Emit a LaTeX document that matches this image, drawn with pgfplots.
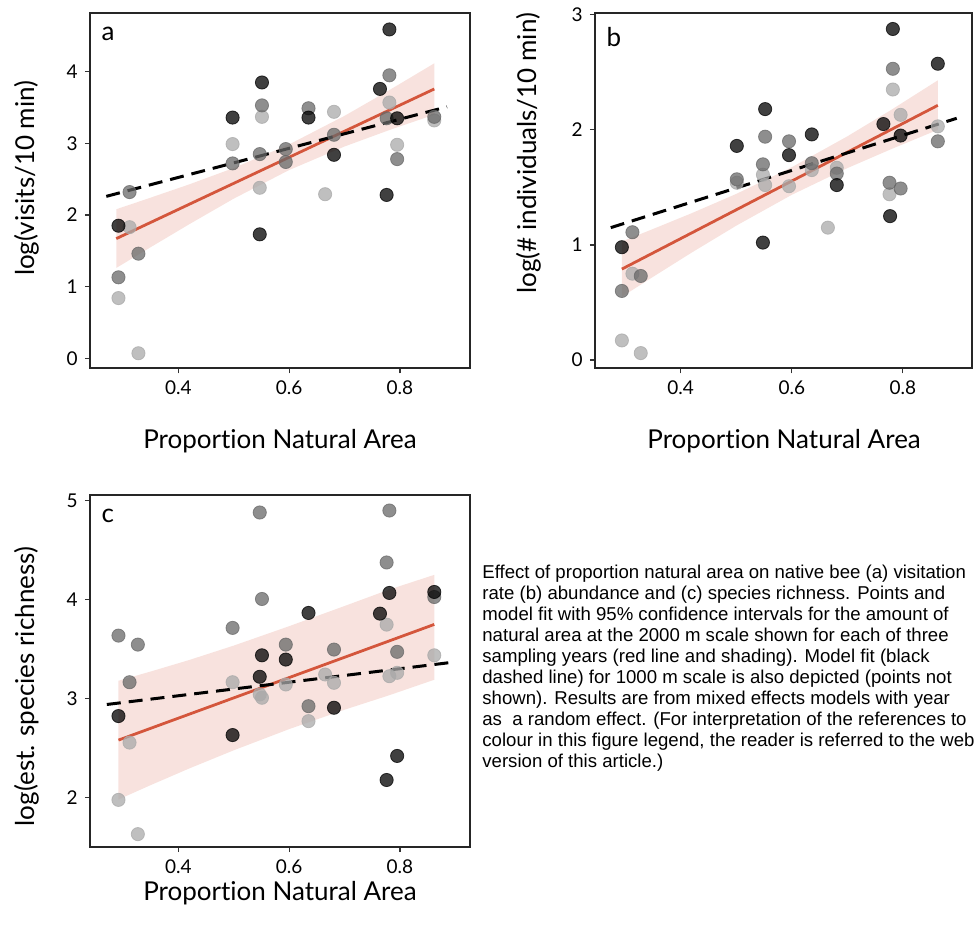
\documentclass[border=0pt]{standalone}
\usepackage{fontspec}
\setmainfont{Liberation Sans}
\newfontfamily\gill[Ligatures=NoCommon]{Lato}
\usepackage{pgfplots}
\pgfplotsset{compat=1.18}

\definecolor{fitred}{RGB}{212,86,60}
\definecolor{ptdark}{RGB}{0,0,0}
\definecolor{ptmid}{RGB}{104,104,104}
\definecolor{ptlight}{RGB}{169,169,169}

\pgfplotsset{
  panel/.style={
    scale only axis,
    anchor=south west,
    axis line style={line width=0.9pt, color=black!85},
    tick align=outside,
    major tick length=2.6pt,
    tick style={line width=0.6pt, color=black!80},
    xtick pos=bottom, ytick pos=left,
    xtick={0.4,0.6,0.8},
    xticklabels={0.4,0.6,0.8},
    /pgf/number format/assume math mode=true,
    tick label style={font=\gill\fontsize{9.5}{10}\selectfont},
    label style={font=\gill\fontsize{13}{14}\selectfont},
    xlabel={Proportion Natural Area},
    clip=false,
  },
  dk/.style={only marks, mark=*, mark size=3.3pt, color=ptdark, opacity=0.75},
  md/.style={only marks, mark=*, mark size=3.3pt, color=ptmid, opacity=0.75},
  lt/.style={only marks, mark=*, mark size=3.3pt, color=ptlight, opacity=0.75},
  band/.style={draw=none, fill=fitred, fill opacity=0.17},
  fit/.style={fitred, line width=1.4pt, no marks},
  dash/.style={black, line width=1.5pt, dash pattern=on 7pt off 4pt, no marks},
}

\begin{document}
\begin{tikzpicture}
\path[use as bounding box] (0,0) rectangle (487pt,467.5pt);

% ---- panel a ----
\begin{axis}[panel, at={(45pt,283.35pt)}, width=190pt, height=177.65pt,
  xmin=0.2406, xmax=0.9265, ymin=-0.14, ymax=4.82,
  ytick={0,1,2,3,4},
  xlabel style={at={(axis description cs:0.5,-0.225)}, anchor=base},
  ylabel={log(visits/10 min)},
  ylabel style={at={(axis description cs:-0.166,0.535)}, anchor=center, rotate=0},
]
\addplot[band] coordinates {
  (0.288,2.08) (0.35,2.242) (0.42,2.428) (0.5,2.656) (0.6,2.985) (0.7,3.384) (0.78,3.739) (0.862,4.117)
  (0.862,3.401) (0.78,3.183) (0.7,2.956) (0.6,2.627) (0.5,2.228) (0.42,1.872) (0.35,1.550) (0.288,1.26)
} -- cycle;
\addplot[lt] coordinates {
  (0.551,3.37) (0.681,3.44) (0.781,3.57) (0.862,3.32) (0.498,2.99) (0.795,2.98)
  (0.547,2.38) (0.665,2.29) (0.312,1.83) (0.292,0.84) (0.328,0.07)
};
\addplot[md] coordinates {
  (0.781,3.95) (0.551,3.53) (0.635,3.49) (0.776,3.35) (0.862,3.37) (0.498,2.72)
  (0.547,2.85) (0.594,2.92) (0.594,2.74) (0.681,3.12) (0.795,2.78) (0.312,2.32)
  (0.328,1.46) (0.292,1.13)
};
\addplot[dk] coordinates {
  (0.781,4.59) (0.551,3.85) (0.498,3.36) (0.635,3.36) (0.764,3.76) (0.795,3.35)
  (0.681,2.84) (0.776,2.28) (0.292,1.85) (0.547,1.73)
};
\addplot[fit] coordinates {(0.288,1.67) (0.862,3.759)};
\addplot[dash] coordinates {(0.27,2.26) (0.885,3.51)};
\node[anchor=north west, font=\gill\fontsize{13}{14}\selectfont] at (axis description cs:0.012,0.98) {a};
\end{axis}

% ---- panel b ----
\begin{axis}[panel, at={(297.5pt,283.35pt)}, width=188.35pt, height=177.65pt,
  xmin=0.2456, xmax=0.924, ymin=-0.072, ymax=3.015,
  ytick={0,1,2,3},
  xlabel style={at={(axis description cs:0.502,-0.225)}, anchor=base},
  ylabel={log(\# individuals/10 min)},
  ylabel style={at={(axis description cs:-0.175,0.605)}, anchor=center, rotate=0},
]
\addplot[band] coordinates {
  (0.294,1.03) (0.35,1.138) (0.42,1.276) (0.5,1.443) (0.6,1.675) (0.7,1.943) (0.78,2.176) (0.863,2.43)
  (0.863,2.00) (0.78,1.834) (0.7,1.667) (0.6,1.435) (0.5,1.167) (0.42,0.934) (0.35,0.722) (0.294,0.55)
} -- cycle;
\addplot[lt] coordinates {
  (0.782,2.35) (0.796,2.13) (0.863,2.03) (0.548,1.61) (0.552,1.52) (0.501,1.54)
  (0.595,1.51) (0.636,1.65) (0.681,1.67) (0.776,1.44) (0.665,1.15) (0.313,0.75)
  (0.294,0.17) (0.328,0.06)
};
\addplot[md] coordinates {
  (0.782,2.53) (0.552,1.94) (0.595,1.90) (0.636,1.71) (0.863,1.90) (0.548,1.70)
  (0.501,1.57) (0.681,1.62) (0.776,1.54) (0.796,1.49) (0.313,1.11) (0.328,0.73)
  (0.294,0.60)
};
\addplot[dk] coordinates {
  (0.782,2.876) (0.863,2.574) (0.552,2.18) (0.501,1.86) (0.595,1.78) (0.636,1.96)
  (0.765,2.05) (0.796,1.95) (0.681,1.52) (0.777,1.25) (0.548,1.02) (0.294,0.98)
};
\addplot[fit] coordinates {(0.294,0.79) (0.863,2.2125)};
\addplot[dash] coordinates {(0.274,1.15) (0.897,2.10)};
\node[anchor=north west, font=\gill\fontsize{13}{14}\selectfont] at (axis description cs:0.012,0.98) {b};
\end{axis}

% ---- panel c ----
\begin{axis}[panel, at={(45pt,44pt)}, width=190pt, height=176pt,
  xmin=0.2406, xmax=0.9265, ymin=1.50, ymax=5.057,
  ytick={2,3,4,5},
  xlabel style={at={(axis description cs:0.5,-0.151)}, anchor=base},
  ylabel={log(est. species richness)},
  ylabel style={at={(axis description cs:-0.166,0.456)}, anchor=center, rotate=0},
]
\addplot[band] coordinates {
  (0.292,3.18) (0.35,3.273) (0.42,3.390) (0.5,3.535) (0.6,3.731) (0.7,3.935) (0.78,4.10) (0.862,4.25)
  (0.862,3.19) (0.78,3.032) (0.7,2.887) (0.6,2.691) (0.5,2.477) (0.42,2.294) (0.35,2.125) (0.292,1.98)
} -- cycle;
\addplot[lt] coordinates {
  (0.776,3.747) (0.862,3.437) (0.312,2.555) (0.292,1.976) (0.498,3.165) (0.547,3.041)
  (0.551,3.008) (0.594,3.142) (0.665,3.243) (0.681,3.159) (0.635,2.772) (0.781,3.226)
  (0.795,3.26) (0.327,1.63)
};
\addplot[md] coordinates {
  (0.547,4.88) (0.781,4.90) (0.776,4.375) (0.551,4.006) (0.862,4.026) (0.292,3.636)
  (0.327,3.545) (0.498,3.714) (0.594,3.545) (0.681,3.495) (0.795,3.472) (0.312,3.165)
  (0.635,2.923)
};
\addplot[dk] coordinates {
  (0.781,4.067) (0.862,4.077) (0.635,3.865) (0.764,3.858) (0.551,3.437) (0.594,3.394)
  (0.292,2.823) (0.498,2.631) (0.547,3.22) (0.681,2.907) (0.795,2.42) (0.776,2.177)
};
\addplot[fit] coordinates {(0.292,2.58) (0.862,3.749)};
\addplot[dash] coordinates {(0.271,2.94) (0.90,3.37)};
\node[anchor=north west, font=\gill\fontsize{13}{14}\selectfont] at (axis description cs:0.012,0.98) {c};
\end{axis}

\node[anchor=north west, inner sep=0pt, align=left, font=\fontsize{9.3}{10.5}\selectfont] at (241pt,185pt) {%
Effect of proportion natural area on native bee (a) visitation\\
rate (b) abundance and (c) species richness. Points and\\
model fit with 95\% confidence intervals for the amount of\\
natural area at the 2000 m scale shown for each of three\\
sampling years (red line and shading). Model fit (black\\
dashed line) for 1000 m scale is also depicted (points not\\
shown). Results are from mixed effects models with year\\
as\ \ a random effect. (For interpretation of the references to\\
colour in this figure legend, the reader is referred to the web\\
version of this article.)};
\end{tikzpicture}
\end{document}
